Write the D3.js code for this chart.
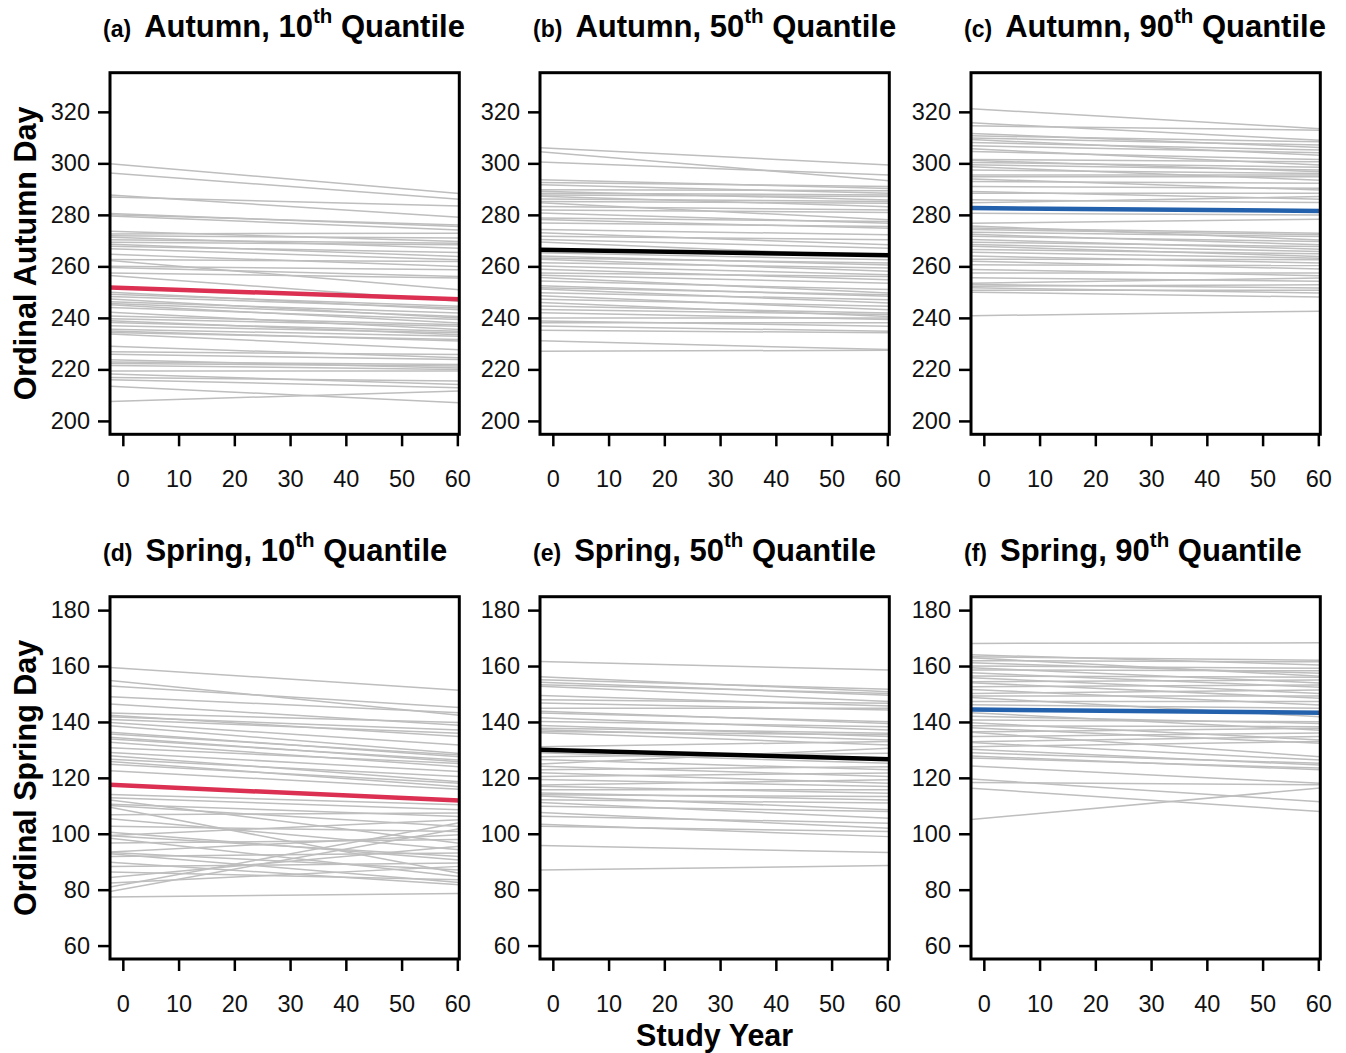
<!DOCTYPE html>
<html>
<head>
<meta charset="utf-8">
<script src="https://cdn.jsdelivr.net/npm/d3@7"></script>
<style>
  html, body { margin: 0; padding: 0; background: #fff; }
  svg { display: block; font-family: "Liberation Sans", Arial, Helvetica, sans-serif; }
</style>
</head>
<body>
<svg id="chart" width="1346" height="1053"></svg>
<script>
// ---------------- DATA ----------------
const xTicks = [0, 10, 20, 30, 40, 50, 60];
const autumnTicks = [200, 220, 240, 260, 280, 300, 320];
const springTicks = [60, 80, 100, 120, 140, 160, 180];
const panelLetters = ["(a)", "(b)", "(c)", "(d)", "(e)", "(f)"];
const panelSeasons = ["Autumn", "Autumn", "Autumn", "Spring", "Spring", "Spring"];
const panelQuantiles = ["10", "50", "90", "10", "50", "90"];
const axisTitles = ["Ordinal Autumn Day", "Ordinal Spring Day"];
const xTitle = "Study Year";

// site-level fitted trends: value at year 0 (start) and year 60 (end)
const aStart = [299.4,295.9,287.4,286.8,280.3,279.9,279.4,273.5,272.6,271.9,271.2,270.3,269.3,268.4,267.7,266.7,264.5,262.6,261.9,260.0,259.4,257.4,256.1,249.7,249.0,248.1,247.1,246.1,245.4,244.8,243.9,241.9,240.6,239.6,238.7,238.1,236.8,235.5,234.8,234.2,233.5,228.8,226.8,225.8,223.6,222.8,222.3,221.5,219.4,218.1,216.8,215.9,213.2,207.7];
const aEnd   = [288.4,286.1,279.1,283.5,275.5,276.1,274.2,269.7,272.9,271.0,267.1,269.0,268.4,263.9,265.4,262.6,260.0,261.9,251.0,258.7,256.1,255.5,246.5,243.2,244.5,243.9,240.0,241.9,240.6,238.1,239.4,235.5,237.4,236.8,233.5,234.8,234.2,232.9,231.0,231.6,227.7,224.5,225.8,223.9,220.6,221.9,221.3,220.0,219.4,214.2,215.5,212.9,207.1,211.6];

const bStart = [305.8,304.1,300.3,293.5,292.5,291.6,289.7,289.0,288.4,287.7,287.1,286.1,285.2,284.5,283.2,281.9,280.6,278.7,278.1,276.8,274.2,272.9,271.6,270.3,269.3,265.2,263.9,263.2,262.6,261.3,260.0,258.7,257.4,256.4,255.5,254.2,252.3,251.6,251.0,249.7,248.4,247.1,245.8,244.5,243.2,241.9,240.0,238.7,238.1,236.8,235.2,231.0,227.1];
const bEnd   = [299.4,293.3,295.5,290.3,291.0,288.4,289.4,285.8,287.7,287.1,283.2,285.2,284.5,278.1,281.9,280.9,276.8,277.4,274.8,275.5,272.3,268.4,270.3,267.1,263.9,262.6,260.6,261.3,258.1,259.4,256.8,254.8,256.1,253.5,249.7,251.0,248.4,249.0,245.8,247.1,243.2,244.5,240.6,241.9,241.3,239.4,240.0,236.8,238.1,234.8,234.2,227.7,227.4];

const cStart = [320.9,315.5,314.5,311.4,310.6,309.7,309.0,308.0,306.7,305.4,304.5,301.5,301.0,300.3,299.4,298.5,297.4,295.5,294.8,293.8,292.9,291.0,289.0,288.4,285.8,284.8,280.6,276.8,275.5,274.8,274.2,273.2,272.3,271.6,270.3,269.3,268.4,267.7,266.5,265.4,263.9,262.8,261.9,260.6,258.7,257.4,255.5,253.5,252.9,252.3,251.6,250.7,249.9,240.9];
const cEnd   = [313.5,309.0,312.9,306.2,308.4,307.1,303.2,305.2,304.1,299.4,301.5,300.6,296.8,298.5,297.4,293.5,296.1,295.5,294.8,289.7,292.3,290.3,286.1,288.4,284.8,287.1,280.0,278.3,270.3,272.9,272.3,271.6,268.4,269.7,266.7,267.7,265.8,263.9,264.9,263.2,261.3,262.6,259.0,260.3,256.4,257.4,254.2,255.5,251.6,252.9,249.7,250.7,248.1,242.6];

const dStart = [159.2,154.4,152.6,148.8,146.1,143.1,142.1,141.7,140.7,139.5,138.3,136.0,135.4,134.2,133.6,132.4,130.6,128.8,127.6,126.4,125.5,124.6,122.3,113.9,112.7,111.5,110.4,109.8,108.6,106.8,105.0,102.6,100.2,99.6,99.0,97.9,96.7,93.7,93.1,92.5,91.9,89.5,88.3,86.2,84.8,82.6,81.8,80.2,77.4];
const dEnd   = [151.4,142.5,145.2,143.3,138.9,139.8,134.8,137.1,136.0,131.8,128.8,127.6,128.2,125.8,126.4,124.0,125.2,122.3,118.7,120.5,116.9,118.1,116.0,110.4,108.6,96.7,106.2,102.6,86.0,107.4,94.3,100.8,90.7,105.0,91.9,84.8,97.9,99.6,87.1,82.6,93.1,81.8,89.5,83.6,95.5,88.3,103.8,101.7,78.6];

const eStart = [161.5,156.0,155.0,154.0,153.2,152.6,149.3,147.9,146.7,144.9,143.7,143.1,141.3,140.1,138.6,137.7,137.1,136.5,136.0,131.2,128.8,127.6,126.4,125.2,124.0,122.9,121.7,120.5,119.3,117.5,116.9,115.7,114.5,113.9,113.3,112.1,111.0,109.8,107.4,106.2,103.2,102.6,95.7,87.1];
const eEnd   = [158.6,150.8,151.7,149.6,150.2,147.3,145.7,146.7,144.3,144.9,139.5,140.1,137.1,138.3,134.8,136.0,133.6,135.4,131.8,133.0,125.2,128.8,122.9,130.6,120.5,124.0,118.1,121.7,116.9,119.3,114.5,115.7,112.1,113.3,108.6,111.0,105.6,108.0,102.0,103.8,99.0,100.8,93.3,88.6];

const fStart = [168.1,163.9,163.3,162.7,161.9,161.0,160.0,159.2,158.6,157.4,156.4,155.6,154.4,153.8,152.6,151.4,150.2,149.3,148.5,147.3,146.1,143.1,141.9,140.7,139.5,138.6,137.7,136.5,136.0,134.8,133.0,132.4,131.2,130.0,128.8,127.6,127.0,124.0,119.3,118.3,116.0,105.5];
const fEnd   = [168.3,160.4,162.1,156.4,161.5,157.4,159.2,154.0,158.3,152.4,156.0,150.2,155.0,148.5,153.2,146.1,151.4,149.3,141.9,147.3,144.9,137.1,139.5,140.1,133.6,138.3,132.4,137.7,127.6,136.0,134.8,126.4,133.0,124.6,125.2,122.9,123.5,118.1,111.5,117.5,108.0,116.3];

// overall quantile trend per panel (a..f)
const overallStart = [251.6, 266.4, 282.6, 117.3, 129.9, 144.4];
const overallEnd   = [247.3, 264.3, 281.5, 111.9, 126.7, 143.3];
const overallColors = ["#dc3052", "#000000", "#2461ad", "#dc3052", "#000000", "#2461ad"];

const siteStarts = [aStart, bStart, cStart, dStart, eStart, fStart];
const siteEnds   = [aEnd, bEnd, cEnd, dEnd, eEnd, fEnd];

// ---------------- LAYOUT ----------------
const svg = d3.select("#chart");
const FONT = "'Liberation Sans', Arial, Helvetica, sans-serif";
const colX = [[110, 459.3], [540, 889.3], [971, 1320.3]];
const rowY = [[72.7, 434.3], [596.7, 959]];
const xDomain = [-2.3, 60.35];
const yDomains = [[194.8, 335.2], [55.2, 184.8]];
const yTickSets = [autumnTicks, springTicks];

for (let p = 0; p < 6; p++) {
  const row = Math.floor(p / 3), col = p % 3;
  const [x0, x1] = colX[col];
  const [y0, y1] = rowY[row];
  const x = d3.scaleLinear().domain(xDomain).range([x0, x1]);
  const y = d3.scaleLinear().domain(yDomains[row]).range([y1, y0]);
  const g = svg.append("g");

  const clipId = "clip" + p;
  svg.append("clipPath").attr("id", clipId)
    .append("rect").attr("x", x0).attr("y", y0).attr("width", x1 - x0).attr("height", y1 - y0);

  const lines = g.append("g").attr("clip-path", `url(#${clipId})`);
  const trend = (s, e) => {
    const slope = (e - s) / 60;
    return [[xDomain[0], s + slope * xDomain[0]], [xDomain[1], s + slope * xDomain[1]]];
  };
  const lineGen = d3.line().x(d => x(d[0])).y(d => y(d[1]));

  const starts = siteStarts[p], ends = siteEnds[p];
  lines.selectAll("path.site").data(starts.map((s, i) => trend(s, ends[i])))
    .enter().append("path").attr("class", "site")
    .attr("d", lineGen)
    .attr("fill", "none").attr("stroke", "#bebebe").attr("stroke-width", 1.5);

  lines.append("path")
    .attr("d", lineGen(trend(overallStart[p], overallEnd[p])))
    .attr("fill", "none").attr("stroke", overallColors[p]).attr("stroke-width", 4.5);

  // box
  g.append("rect").attr("x", x0).attr("y", y0).attr("width", x1 - x0).attr("height", y1 - y0)
    .attr("fill", "none").attr("stroke", "#000").attr("stroke-width", 3);

  // y axis
  const yAxis = g.append("g").attr("transform", `translate(${x0},0)`)
    .call(d3.axisLeft(y).tickValues(yTickSets[row]).tickSize(12).tickPadding(8));
  yAxis.select(".domain").remove();
  yAxis.selectAll(".tick line").attr("stroke", "#000").attr("stroke-width", 2.5);
  yAxis.selectAll(".tick text").attr("font-size", 23.5).attr("font-family", FONT).attr("fill", "#111");

  // x axis
  const xAxis = g.append("g").attr("transform", `translate(0,${y1})`)
    .call(d3.axisBottom(x).tickValues(xTicks).tickSize(12).tickPadding(24));
  xAxis.select(".domain").remove();
  xAxis.selectAll(".tick line").attr("stroke", "#000").attr("stroke-width", 2.5);
  xAxis.selectAll(".tick text").attr("font-size", 23.5).attr("font-family", FONT).attr("fill", "#111");

  // title
  const t = svg.append("text").attr("x", x0 - 7).attr("y", y0 - 36)
    .attr("font-family", FONT).attr("font-weight", "bold").attr("fill", "#000");
  t.append("tspan").attr("font-size", 23).text(panelLetters[p]);
  t.append("tspan").attr("font-size", 31).attr("dx", 13).text(`${panelSeasons[p]}, ${panelQuantiles[p]}`);
  t.append("tspan").attr("font-size", 20.5).attr("dy", -14).text("th");
  t.append("tspan").attr("font-size", 31).attr("dy", 14).text(" Quantile");
}

// axis titles
axisTitles.forEach((txt, r) => {
  const cy = (rowY[r][0] + rowY[r][1]) / 2;
  svg.append("text")
    .attr("transform", `translate(36,${cy}) rotate(-90)`)
    .attr("text-anchor", "middle")
    .attr("font-family", FONT).attr("font-weight", "bold").attr("font-size", 30.5)
    .text(txt);
});
svg.append("text")
  .attr("x", (colX[1][0] + colX[1][1]) / 2).attr("y", 1046)
  .attr("text-anchor", "middle")
  .attr("font-family", FONT).attr("font-weight", "bold").attr("font-size", 30.5)
  .text(xTitle);
</script>
</body>
</html>
